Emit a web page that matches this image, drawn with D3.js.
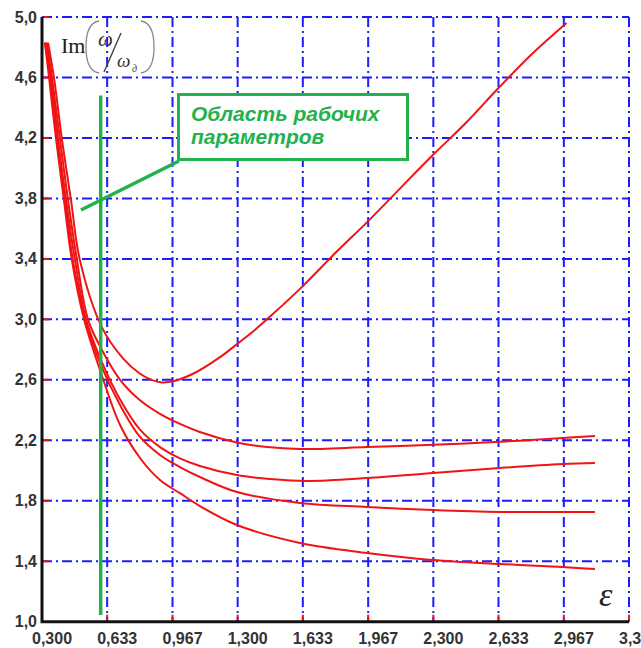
<!DOCTYPE html>
<html>
<head>
<meta charset="utf-8">
<script src="https://cdn.jsdelivr.net/npm/d3@7/dist/d3.min.js"></script>
<style>
  body { margin: 0; background: #fff; }
  svg { display: block; }
</style>
</head>
<body>
<div id="chart"></div>
<script>
var w = 641, h = 648;

// tick values and labels (comma decimals as in the original)
var xTicks = [0.3, 0.633, 0.967, 1.3, 1.633, 1.967, 2.3, 2.633, 2.967, 3.3];
var xTickLabels = ["0,300", "0,633", "0,967", "1,300", "1,633", "1,967", "2,300", "2,633", "2,967", "3,3"];
var yTicks = [1.0, 1.4, 1.8, 2.2, 2.6, 3.0, 3.4, 3.8, 4.2, 4.6, 5.0];
var yTickLabels = ["1,0", "1,4", "1,8", "2,2", "2,6", "3,0", "3,4", "3,8", "4,2", "4,6", "5,0"];

// curves, epsilon -> Im(w/w_d)
var epsA = [0.331, 0.361, 0.402, 0.448, 0.494, 0.605, 0.715, 0.801, 0.860, 0.912, 0.969, 1.072, 1.210, 1.300, 1.388, 1.467, 1.633, 1.800, 1.967, 2.133, 2.300, 2.467, 2.633, 2.800, 2.981];
var imA  = [4.83, 4.60, 4.19, 3.79, 3.39, 2.95, 2.74, 2.64, 2.60, 2.583, 2.59, 2.64, 2.75, 2.84, 2.93, 3.02, 3.22, 3.44, 3.65, 3.87, 4.09, 4.30, 4.53, 4.75, 4.96];

var epsB = [0.326, 0.351, 0.392, 0.433, 0.479, 0.535, 0.605, 0.699, 0.801, 0.903, 0.969, 1.107, 1.296, 1.450, 1.618, 1.961, 2.298, 2.640, 2.962, 3.126];
var imB  = [4.83, 4.60, 4.19, 3.79, 3.39, 3.00, 2.80, 2.60, 2.465, 2.375, 2.33, 2.255, 2.185, 2.155, 2.142, 2.155, 2.17, 2.19, 2.215, 2.228];

var epsC = [0.320, 0.346, 0.382, 0.423, 0.469, 0.525, 0.605, 0.699, 0.801, 0.903, 1.005, 1.107, 1.296, 1.465, 1.654, 1.961, 2.298, 2.640, 2.962, 3.126];
var imC  = [4.83, 4.60, 4.19, 3.79, 3.39, 3.00, 2.72, 2.47, 2.27, 2.155, 2.08, 2.03, 1.97, 1.944, 1.931, 1.95, 1.983, 2.017, 2.043, 2.05];

var epsD = [0.315, 0.341, 0.377, 0.418, 0.458, 0.520, 0.605, 0.699, 0.801, 0.903, 1.005, 1.107, 1.296, 1.618, 1.961, 2.298, 2.640, 2.962, 3.126];
var imD  = [4.83, 4.60, 4.19, 3.79, 3.39, 3.00, 2.685, 2.433, 2.222, 2.103, 2.023, 1.957, 1.858, 1.785, 1.759, 1.739, 1.726, 1.726, 1.726];

var epsE = [0.315, 0.336, 0.372, 0.412, 0.453, 0.515, 0.605, 0.699, 0.801, 0.903, 1.005, 1.107, 1.296, 1.618, 1.961, 2.298, 2.640, 2.962, 3.126];
var imE  = [4.83, 4.60, 4.19, 3.79, 3.39, 3.00, 2.632, 2.301, 2.083, 1.937, 1.850, 1.765, 1.640, 1.521, 1.455, 1.408, 1.382, 1.362, 1.348];

var series = [[epsA, imA], [epsB, imB], [epsC, imC], [epsD, imD], [epsE, imE]];

// working zone marker
var zoneEps = 0.600, zoneTop = 4.48, zoneBottom = 1.045;

var x = d3.scaleLinear().domain([0.3, 3.3]).range([42, 629]);
var y = d3.scaleLinear().domain([1.0, 5.0]).range([621.7, 17]);

var svg = d3.select("#chart").append("svg")
    .attr("width", w)
    .attr("height", h);

var blue = "#1c1cff", red = "#f01414", green = "#22b14c";

// grid, dash-dot blue
var grid = svg.append("g");
grid.selectAll("line.v")
  .data(xTicks.slice(1))
  .enter().append("line")
    .attr("x1", function(d) { return x(d); })
    .attr("x2", function(d) { return x(d); })
    .attr("y1", y(5.0))
    .attr("y2", y(1.0))
    .attr("stroke", blue)
    .attr("stroke-width", 2)
    .attr("stroke-dasharray", "10,4,2,4");
grid.selectAll("line.h")
  .data(yTicks.slice(1))
  .enter().append("line")
    .attr("x1", x(0.3))
    .attr("x2", x(3.3))
    .attr("y1", function(d) { return y(d); })
    .attr("y2", function(d) { return y(d); })
    .attr("stroke", blue)
    .attr("stroke-width", 2)
    .attr("stroke-dasharray", "10,4,2,4");

// little red ticks next to the axes
grid.selectAll("line.tx")
  .data(xTicks.slice(1))
  .enter().append("line")
    .attr("x1", function(d) { return x(d); })
    .attr("x2", function(d) { return x(d); })
    .attr("y1", y(1.0) - 2)
    .attr("y2", y(1.0) - 7)
    .attr("stroke", red)
    .attr("stroke-width", 2);
grid.selectAll("line.ty")
  .data(yTicks.slice(1))
  .enter().append("line")
    .attr("x1", x(0.3) + 2)
    .attr("x2", x(0.3) + 7)
    .attr("y1", function(d) { return y(d); })
    .attr("y2", function(d) { return y(d); })
    .attr("stroke", red)
    .attr("stroke-width", 2);

// curves
var line = d3.line()
    .x(function(d) { return x(d[0]); })
    .y(function(d) { return y(d[1]); })
    .curve(d3.curveCatmullRom.alpha(0.5));

svg.append("g").selectAll("path")
  .data(series)
  .enter().append("path")
    .attr("d", function(s) { return line(s[0].map(function(v, i) { return [v, s[1][i]]; })); })
    .attr("fill", "none")
    .attr("stroke", red)
    .attr("stroke-width", 2);

// axes
svg.append("path")
    .attr("d", "M" + x(0.3) + "," + y(5.0) + "V" + y(1.0) + "H" + x(3.3))
    .attr("fill", "none")
    .attr("stroke", "#111")
    .attr("stroke-width", 3);

svg.append("g").selectAll("text")
  .data(yTicks)
  .enter().append("text")
    .attr("x", 37)
    .attr("y", function(d) { return y(d) + 5.5; })
    .attr("text-anchor", "end")
    .attr("font-family", "Liberation Sans, Arial, sans-serif")
    .attr("font-size", 16)
    .attr("font-weight", "bold")
    .attr("fill", "#333")
    .text(function(d, i) { return yTickLabels[i]; });

svg.append("g").selectAll("text")
  .data(xTicks)
  .enter().append("text")
    .attr("x", function(d) { return x(d) - 10; })
    .attr("y", 644)
    .attr("font-family", "Liberation Sans, Arial, sans-serif")
    .attr("font-size", 16)
    .attr("font-weight", "bold")
    .attr("fill", "#333")
    .text(function(d, i) { return xTickLabels[i]; });

// axis titles
var serif = "Liberation Serif, Times New Roman, serif";
svg.append("text")
    .attr("x", 61).attr("y", 53)
    .attr("font-family", serif).attr("font-size", 22)
    .attr("fill", "#222")
    .text("Im");
svg.append("path")
    .attr("d", "M99,21 Q86,23 86,47 Q86,71 99,73")
    .attr("fill", "none").attr("stroke", "#888").attr("stroke-width", 1.3);
svg.append("path")
    .attr("d", "M141,21 Q154,23 154,47 Q154,71 141,73")
    .attr("fill", "none").attr("stroke", "#888").attr("stroke-width", 1.3);
svg.append("text")
    .attr("x", 98).attr("y", 46)
    .attr("font-family", serif).attr("font-style", "italic").attr("font-size", 21)
    .attr("fill", "#333")
    .text("ω");
svg.append("line")
    .attr("x1", 121).attr("y1", 33).attr("x2", 104).attr("y2", 72)
    .attr("stroke", "#444").attr("stroke-width", 1.4);
svg.append("text")
    .attr("x", 117).attr("y", 67)
    .attr("font-family", serif).attr("font-style", "italic").attr("font-size", 19)
    .attr("fill", "#333")
    .text("ω");
svg.append("text")
    .attr("x", 132).attr("y", 72)
    .attr("font-family", serif).attr("font-style", "italic").attr("font-size", 10)
    .attr("fill", "#333")
    .text("д");
svg.append("text")
    .attr("x", 599).attr("y", 606)
    .attr("font-family", serif).attr("font-style", "italic").attr("font-size", 34)
    .attr("fill", "#222")
    .text("ε");

// working zone line and callout
svg.append("line")
    .attr("x1", x(zoneEps)).attr("x2", x(zoneEps))
    .attr("y1", y(zoneTop)).attr("y2", y(zoneBottom))
    .attr("stroke", green).attr("stroke-width", 3.5);
svg.append("line")
    .attr("x1", 179).attr("y1", 161).attr("x2", 81).attr("y2", 210)
    .attr("stroke", green).attr("stroke-width", 3.5);
svg.append("rect")
    .attr("x", 178.5).attr("y", 94.5).attr("width", 229).attr("height", 65)
    .attr("fill", "#fff").attr("stroke", green).attr("stroke-width", 3);
var note = svg.append("text")
    .attr("font-family", "Liberation Sans, Arial, sans-serif")
    .attr("font-size", 21).attr("font-style", "italic").attr("font-weight", "bold")
    .attr("fill", green);
note.append("tspan").attr("x", 191).attr("y", 121).text("Область рабочих");
note.append("tspan").attr("x", 191).attr("y", 144).text("параметров");
</script>
</body>
</html>
